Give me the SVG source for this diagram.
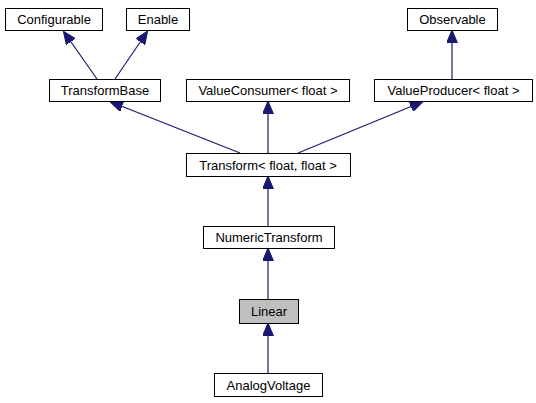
<svg xmlns="http://www.w3.org/2000/svg" width="536" height="403" viewBox="0 0 536 403">
<style>
.n rect{fill:#fff;stroke:#000;stroke-width:1}
.n.hl rect{fill:#bfbfbf}
.n text{font-family:"Liberation Sans",Arial,sans-serif;font-size:13px;text-anchor:middle;fill:#000}
.e path{fill:none;stroke:#191970;stroke-width:1.2}
</style>
<defs>
<marker id="ah" viewBox="0 0 13 11" refX="12" refY="5.5" markerWidth="13" markerHeight="11" markerUnits="userSpaceOnUse" orient="auto">
<path d="M0,0 L13,5.5 L0,11 Z" fill="#191970" stroke="#191970"/>
</marker>
</defs>
<rect width="536" height="403" fill="#fff"/>
<g class="e">
<path d="M97,79 L64,32" marker-end="url(#ah)"/>
<path d="M115,79 L147,32" marker-end="url(#ah)"/>
<path d="M452,79 L452,31" marker-end="url(#ah)"/>
<path d="M240,153 L111,102" marker-end="url(#ah)"/>
<path d="M268,153 L268,102" marker-end="url(#ah)"/>
<path d="M298,153 L422,102" marker-end="url(#ah)"/>
<path d="M268,226 L268,177" marker-end="url(#ah)"/>
<path d="M268,299 L268,249" marker-end="url(#ah)"/>
<path d="M268,373 L268,324" marker-end="url(#ah)"/>
</g>
<g id="Configurable" class="n"><rect x="5.5" y="8.5" width="97" height="22"/><text x="54" y="24">Configurable</text></g>
<g id="Enable" class="n"><rect x="126.5" y="8.5" width="63" height="22"/><text x="158" y="24">Enable</text></g>
<g id="Observable" class="n"><rect x="407.5" y="8.5" width="90" height="22"/><text x="452.5" y="24">Observable</text></g>
<g id="TransformBase" class="n"><rect x="49.5" y="79.5" width="111" height="22"/><text x="105" y="95">TransformBase</text></g>
<g id="ValueConsumer" class="n"><rect x="186.5" y="79.5" width="163" height="22"/><text x="268" y="95">ValueConsumer&lt; float &gt;</text></g>
<g id="ValueProducer" class="n"><rect x="374.5" y="79.5" width="158" height="22"/><text x="453.5" y="95">ValueProducer&lt; float &gt;</text></g>
<g id="Transform" class="n"><rect x="186.5" y="153.5" width="164" height="23"/><text x="268" y="169.5">Transform&lt; float, float &gt;</text></g>
<g id="NumericTransform" class="n"><rect x="203.5" y="226.5" width="131" height="22"/><text x="269" y="242">NumericTransform</text></g>
<g id="Linear" class="n hl"><rect x="239.5" y="299.5" width="59" height="24"/><text x="269" y="316">Linear</text></g>
<g id="AnalogVoltage" class="n"><rect x="214.5" y="373.5" width="108" height="23"/><text x="268.5" y="389.5">AnalogVoltage</text></g>
</svg>
